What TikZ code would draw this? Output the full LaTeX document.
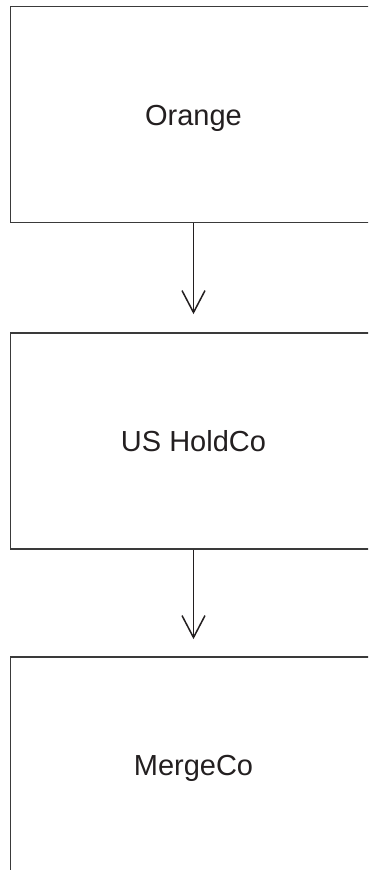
\documentclass[tikz,border=0pt]{standalone}
\usepackage{fontspec}
\setmainfont{Liberation Sans}
\usetikzlibrary{arrows.meta}
\definecolor{edge}{HTML}{3A3A3A}
\definecolor{ink}{HTML}{231F20}
\tikzset{
  entity/.style={draw=edge, line width=1.7pt, rectangle, minimum width=366pt, minimum height=216pt,
    inner sep=0pt, text=ink, font=\fontsize{29}{34}\selectfont, text height=20.8pt, text depth=0pt},
  own/.style={draw=ink, line width=1.5pt, -{Straight Barb[length=22pt,width=23pt,line width=1.5pt]}}
}
\begin{document}
\begin{tikzpicture}[x=1pt,y=-1pt]
\useasboundingbox (0,0) rectangle (368,870);
\clip (0,0) rectangle (368,870);
\node[entity] (orange) at (193.5,114.6) {Orange};
\node[entity] (holdco) at (193.5,440.7) {US HoldCo};
\node[entity] (merge) at (193.5,764.7) {MergeCo};
\draw[own] (orange.south) -- ([yshift=17.7pt]holdco.north);
\draw[own] (holdco.south) -- ([yshift=16.7pt]merge.north);
\end{tikzpicture}
\end{document}
